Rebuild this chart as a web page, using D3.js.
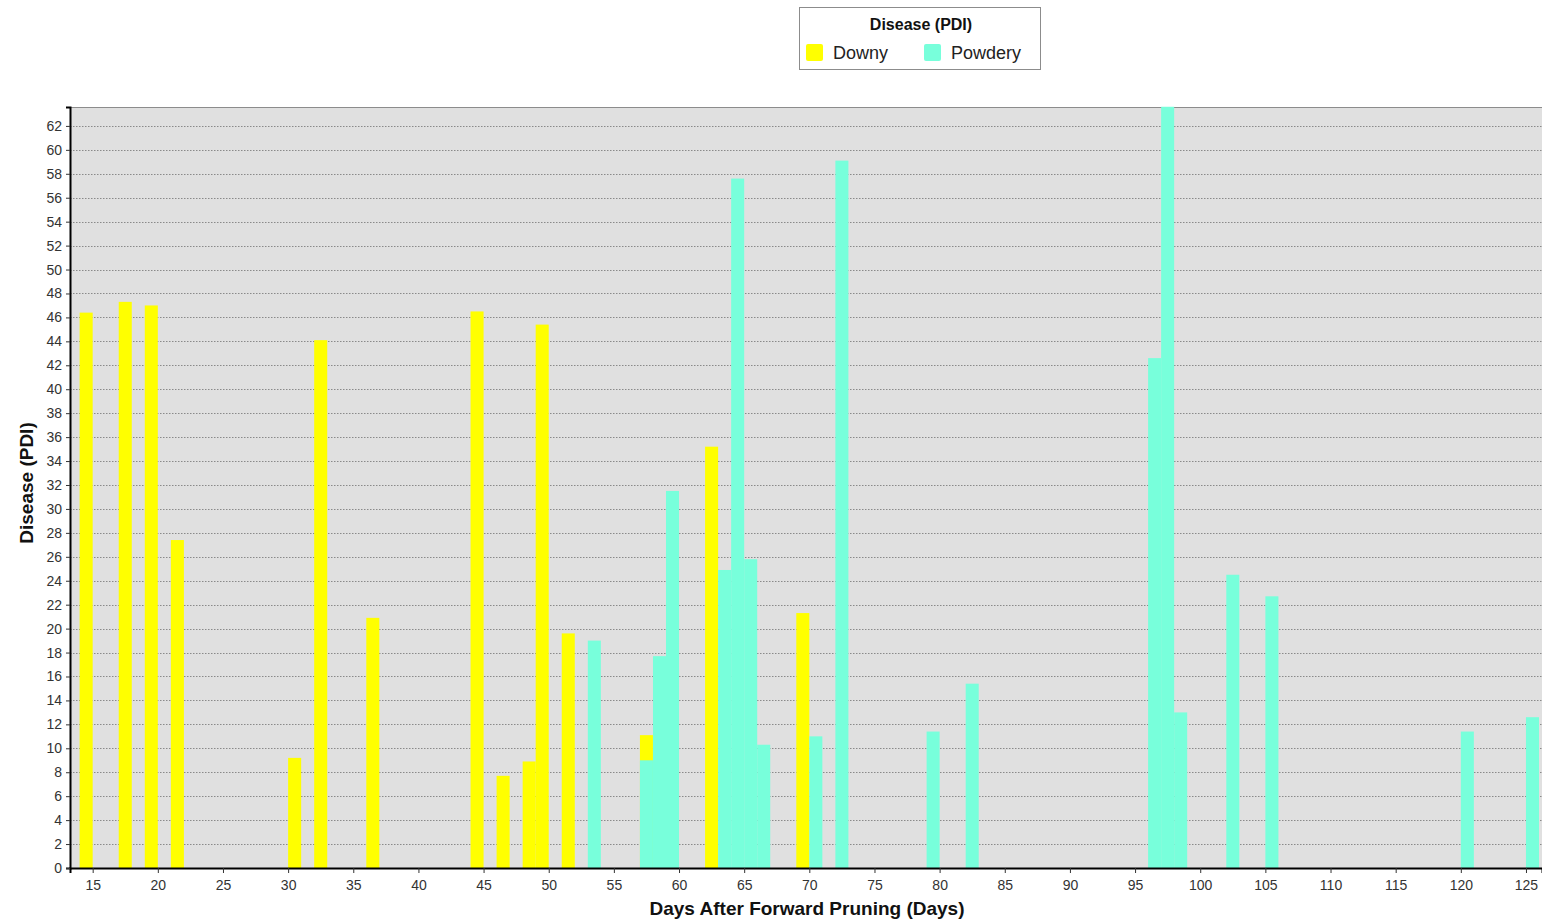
<!DOCTYPE html>
<html>
<head>
<meta charset="utf-8">
<script src="https://cdn.jsdelivr.net/npm/d3@7"></script>
<style>
  body { margin: 0; background: #fff; }
  text { font-family: "Liberation Sans", Arial, sans-serif; }
</style>
</head>
<body>
<div id="chart"></div>
<script>
// bars: day = left edge of the bar, value = PDI
const downyDays   = [14, 17, 19, 21, 30, 32, 36, 44, 46, 48, 49, 51, 57, 62, 69];
const downyValues = [46.4, 47.3, 47.0, 27.4, 9.2, 44.1, 20.9, 46.5, 7.7, 8.9, 45.4, 19.6, 11.1, 35.2, 21.3];

const powderyDays   = [53, 57, 58, 59, 63, 64, 65, 66, 70, 72, 79, 82, 96, 97, 98, 102, 105, 120, 125];
const powderyValues = [19.0, 9.0, 17.7, 31.5, 24.9, 57.6, 25.8, 10.3, 11.0, 59.1, 11.4, 15.4, 42.6, 63.6, 13.0, 24.5, 22.7, 11.4, 12.6];

const xTicks = d3.range(15, 126, 5);
const yTicks = d3.range(0, 63, 2);

const seriesNames = ['Downy', 'Powdery'];
const color = { Downy: '#ffff00', Powdery: '#78ffdb' };

const svgWidth = 1542, svgHeight = 922;
const plot = { left: 70, top: 107, right: 1542, bottom: 868 };

const svg = d3.select('#chart')
    .append('svg')
    .attr('width', svgWidth)
    .attr('height', svgHeight);

const x = d3.scaleLinear()
    .domain([13.26, 126.23])
    .range([plot.left, plot.right]);

const y = d3.scaleLinear()
    .domain([0, 63.58])
    .range([plot.bottom, plot.top]);

// plot background
svg.append('rect')
    .attr('x', plot.left)
    .attr('y', plot.top)
    .attr('width', plot.right - plot.left)
    .attr('height', plot.bottom - plot.top)
    .style('fill', '#e0e0e0');

svg.append('line')
    .attr('x1', plot.left).attr('x2', plot.right)
    .attr('y1', plot.top + 0.5).attr('y2', plot.top + 0.5)
    .style('stroke', '#8c8c8c');

// dotted grid lines
svg.append('g').attr('class', 'grid')
    .selectAll('line')
    .data(yTicks.filter(d => d > 0)).enter()
    .append('line')
    .attr('x1', plot.left).attr('x2', plot.right)
    .attr('y1', d => Math.round(y(d)) + 0.5)
    .attr('y2', d => Math.round(y(d)) + 0.5)
    .style('stroke', '#8a8a8a')
    .style('stroke-dasharray', '1.5,1.5');

// bars, downy first so powdery lies on top
const bars = svg.append('g').attr('class', 'bars');

const drawSeries = (name, days, values) => {
    const data = days.map((d, i) => ({ day: d, value: values[i] }));
    bars.append('g')
        .selectAll('rect')
        .data(data).enter()
        .append('rect')
        .attr('x', d => x(d.day))
        .attr('width', d => x(d.day + 1) - x(d.day))
        .attr('y', d => y(d.value))
        .attr('height', d => y(0) - y(d.value))
        .style('fill', color[name]);
};

drawSeries('Downy', downyDays, downyValues);
drawSeries('Powdery', powderyDays, powderyValues);

// axes
const xAxis = svg.append('g')
    .attr('transform', `translate(0, ${plot.bottom})`)
    .call(d3.axisBottom(x).tickValues(xTicks).tickSize(5).tickPadding(7));

const yAxis = svg.append('g')
    .attr('transform', `translate(${plot.left}, 0)`)
    .call(d3.axisLeft(y).tickValues(yTicks).tickSize(4).tickPadding(4));

[xAxis, yAxis].forEach(ax => {
    ax.select('.domain').style('stroke', '#000').style('stroke-width', 2);
    ax.selectAll('.tick line').style('stroke', '#333');
    ax.selectAll('.tick text')
        .style('font-size', '14px')
        .style('fill', '#333');
});

// axis titles
svg.append('text')
    .attr('x', 807)
    .attr('y', 915)
    .style('text-anchor', 'middle')
    .style('font-size', '19px')
    .style('font-weight', 'bold')
    .style('fill', '#111')
    .text('Days After Forward Pruning (Days)');

svg.append('text')
    .attr('transform', 'translate(33, 483) rotate(-90)')
    .style('text-anchor', 'middle')
    .style('font-size', '19px')
    .style('font-weight', 'bold')
    .style('fill', '#111')
    .text('Disease (PDI)');

// legend
const legend = svg.append('g').attr('class', 'legend');

legend.append('rect')
    .attr('x', 799.5).attr('y', 7.5)
    .attr('width', 241).attr('height', 62)
    .style('fill', '#fff')
    .style('stroke', '#8c8c8c');

legend.append('text')
    .attr('x', 921)
    .attr('y', 30)
    .style('text-anchor', 'middle')
    .style('font-size', '16px')
    .style('font-weight', 'bold')
    .style('fill', '#111')
    .text('Disease (PDI)');

const legendX = { Downy: 806, Powdery: 924 };

const legendItem = legend.selectAll('.item')
    .data(seriesNames).enter()
    .append('g')
    .attr('class', 'item')
    .attr('transform', d => `translate(${legendX[d]}, 0)`);

legendItem.append('rect')
    .attr('x', 0).attr('y', 44)
    .attr('width', 17).attr('height', 17)
    .attr('rx', 2)
    .style('fill', d => color[d]);

legendItem.append('text')
    .attr('x', 27)
    .attr('y', 59)
    .style('font-size', '18px')
    .style('fill', '#222')
    .text(d => d);
</script>
</body>
</html>
